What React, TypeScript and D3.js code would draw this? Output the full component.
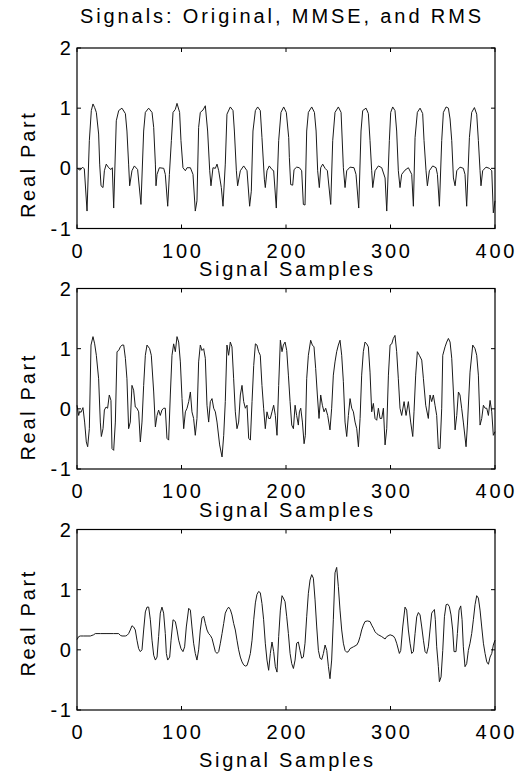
import React from 'react';
import * as d3 from 'd3';

// signal samples: [sample index, real part]
const original: [number, number][] = [
  [0, 0.0], [3, -0.03], [5.4, 0.02], [7, -0.01], [9.6, -0.71], [11.8, 0.46], [13.7, 0.96], [15.3, 1.07], [16.9, 1.01], [18.5, 0.93],
  [20.7, 0.57], [21.7, 0.07], [23, -0.29], [24.9, -0.32], [26.2, -0.04], [28, 0.07], [30.3, 0.01], [32.5, -0.02], [33.8, 0.01], [35.1, -0.66],
  [37.6, 0.79], [39.9, 0.96], [43, 1.0], [46.3, 0.91], [47.8, 0.62], [49.4, 0.07], [50.4, -0.29], [52.6, -0.04], [54.9, 0.04], [58, -0.02],
  [61.2, -0.6], [63.8, 0.62], [65.4, 0.93], [68.6, 1.0], [71.8, 0.93], [73.4, 0.68], [75, 0.07], [75.6, -0.29], [76.6, -0.1], [78.8, 0.01],
  [83, 0], [84.5, -0.1], [86.8, -0.63], [88.4, -0.1], [90.3, 0.46], [91.9, 0.93], [94.1, 0.98], [95.7, 1.08], [98.2, 0.93], [99.5, 0.46],
  [101.4, 0.01], [103.7, -0.04], [105.3, 0.01], [108.5, 0.01], [111, -0.1], [113.2, -0.71], [114.8, -0.54], [116.4, 0.68], [118, 0.93], [120.6, 0.97],
  [122.8, 1.04], [125, 0.62], [127, -0.04], [128.2, -0.29], [130.1, 0.01], [132.4, 0], [134, 0.07], [135.6, -0.04], [138.1, -0.32], [139.7, -0.63],
  [141.9, 0.07], [143.5, 0.9], [146.7, 1.02], [149.3, 0.96], [150.6, 0.62], [152.5, -0.04], [153.7, -0.29], [156.3, -0.04], [159.5, 0.04], [162.7, -0.04],
  [165.2, -0.63], [166.8, -0.38], [168.4, 0.62], [170.7, 0.96], [172.9, 1.02], [175.4, 0.96], [177, 0.51], [179.3, -0.18], [180.2, -0.32], [181.8, -0.04],
  [184, 0.04], [186.6, -0.02], [188.2, -0.04], [190.7, -0.66], [193, 0.46], [195.2, 0.93], [197.8, 1.02], [200.3, 0.93], [202.6, 0.51], [203.2, 0.18],
  [204.5, -0.27], [206.4, -0.28], [207.7, -0.02], [210.2, 0.02], [212.8, 0.01], [215, -0.04], [216.6, -0.6], [218.2, -0.61], [219.8, 0.62], [221.4, 0.93],
  [224.6, 1.02], [227.2, 0.93], [228.8, 0.62], [230.3, -0.04], [231.9, -0.32], [233.2, 0.01], [235.1, 0.07], [237.4, 0], [239.6, -0.04], [242.8, -0.6],
  [244.7, 0.46], [246.9, 0.93], [250.1, 1.02], [252.7, 0.93], [254.9, 0.01], [256.5, -0.32], [258.1, -0.04], [261.3, 0.02], [265.1, 0.01], [267, -0.1],
  [269.6, -0.66], [271.8, 0.62], [273.4, 0.96], [276.6, 1.0], [278.8, 0.91], [280.4, 0.46], [282, -0.04], [283, -0.32], [285.2, -0.04], [288.4, 0.04],
  [291.6, 0.01], [294.8, -0.16], [296.4, -0.71], [298.9, 0.46], [300.2, 0.93], [302.1, 1.02], [304.3, 0.96], [305.9, 0.62], [307.5, -0.04], [309.1, -0.32],
  [310.7, -0.1], [313.9, -0.03], [317.1, 0.01], [320.3, -0.1], [321.9, -0.63], [323.5, 0.51], [325.7, 0.93], [328.3, 1.0], [330.8, 0.91], [332.1, 0.46],
  [334, -0.04], [335.3, -0.29], [337.2, -0.04], [340.4, 0.04], [343.6, 0.01], [344.9, -0.1], [346.8, -0.63], [349, 0.46], [350.6, 0.93], [353.2, 1.02],
  [355.4, 1.0], [357, 0.82], [358.6, 0.46], [360.2, -0.16], [361.8, -0.29], [363.4, -0.04], [366.5, 0.02], [369.7, 0], [371.3, -0.1], [372.9, -0.63],
  [375.5, 0.51], [377.7, 0.93], [380.3, 1.01], [382.5, 0.9], [384.1, 0.46], [385.7, -0.04], [386.6, -0.29], [388.2, -0.04], [391.4, 0.02], [394.6, 0],
  [396.9, -0.04], [398.4, -0.74], [400, -0.54],
];

const mmse: [number, number][] = [
  [0, 0.06], [1.6, -0.11], [2.6, -0.04], [3.8, -0.06], [5.7, 0.02], [7.3, -0.22], [8.9, -0.55], [10.2, -0.63], [11.8, -0.33], [13.4, 1.06],
  [15.3, 1.2], [16.9, 1.08], [18.5, 0.89], [20.7, 0.5], [22.3, -0.22], [23.3, -0.46], [24.9, -0.33], [26.2, -0.02], [27.8, 0.03], [29.3, 0.01],
  [30.9, 0.23], [32.5, 0.14], [33.5, -0.66], [35.1, -0.69], [36.7, -0.22], [38.3, 0.95], [39.9, 0.97], [41.5, 1.03], [43.1, 1.06], [44.7, 1.06],
  [46.3, 0.84], [47.8, 0.5], [49.4, -0.33], [51, -0.22], [52.6, 0.39], [54.2, 0.31], [55.8, 0.03], [57.4, 0.01], [59, -0.05], [60.6, -0.55],
  [62.2, -0.22], [63.8, 0.39], [65.4, 0.89], [67, 1.06], [69.5, 1.0], [71.1, 0.89], [73.4, 0.28], [75, -0.3], [76.6, -0.11], [78.1, -0.02],
  [79.7, -0.11], [81.3, -0.02], [82.9, 0.01], [84.5, 0.01], [86.1, -0.49], [87.7, -0.52], [89.3, 0.23], [90.9, 0.89], [92.5, 1.08], [94.1, 0.95],
  [95.7, 1.2], [97.3, 1.11], [98.9, 0.78], [100.5, 0.17], [102.1, -0.33], [103.7, -0.05], [105.3, 0.01], [106.9, 0.12], [108.5, 0.28], [110, -0.05],
  [111.6, -0.16], [113.2, -0.44], [114.8, -0.16], [116.4, 0.78], [118, 1.06], [119.6, 0.97], [121.2, 1.0], [122.8, 0.84], [124.4, 0.06], [126, -0.22],
  [127.6, 0.12], [129.2, 0.17], [130.8, 0.01], [132.4, -0.05], [134, -0.22], [136.5, -0.6], [138.8, -0.8], [140.4, -0.44], [141.9, 0.12], [143.5, 1.06],
  [145.1, 0.89], [146.7, 1.11], [148.3, 1.03], [149.9, 0.5], [151.5, -0.05], [153.1, -0.33], [154.7, -0.22], [156.3, 0.23], [157.9, 0.39], [159.5, 0.12],
  [161.1, 0.01], [162.7, 0.06], [164.3, -0.49], [165.9, -0.52], [167.5, 0.12], [169.1, 0.72], [170.7, 1.08], [172.2, 1.06], [173.8, 0.95], [175.4, 0.89],
  [177, 0.39], [178.6, 0.01], [180.2, -0.33], [181.8, -0.05], [183.4, -0.16], [185, -0.16], [186.6, -0.05], [188.2, 0.06], [189.8, -0.11], [191.4, -0.44],
  [193, 0.39], [194.6, 1.14], [196.2, 0.95], [197.5, 1.06], [199.1, 1.11], [200.7, 0.97], [202.3, 0.56], [203.9, 0.12], [205.5, -0.27], [207.1, -0.33],
  [208.7, 0.06], [210.2, -0.11], [211.8, -0.27], [212.8, -0.05], [214.1, 0.01], [215.7, -0.22], [217.3, -0.58], [218.5, -0.44], [219.8, 0.5], [221.4, 0.89],
  [223.6, 1.14], [225.2, 1.06], [226.8, 1.03], [228.4, 0.67], [230, 0.23], [231.6, -0.16], [233.2, 0.23], [234.8, 0.06], [236.4, -0.05], [238, 0.01],
  [239.9, -0.11], [242.1, -0.35], [243.7, 0.01], [245.3, 0.56], [246.9, 0.78], [248.5, 0.95], [250.1, 1.06], [251.7, 1.14], [253.3, 0.89], [254.9, 0.45],
  [256.5, -0.22], [258.1, -0.46], [259.7, -0.11], [261.3, 0.17], [262.9, 0.01], [264.5, -0.05], [266.1, -0.22], [267.7, -0.33], [269.3, -0.63], [270.9, -0.16],
  [272.4, 0.56], [274, 0.95], [275.6, 1.11], [277.2, 1.08], [278.8, 1.03], [280.4, 0.61], [282, -0.05], [283.6, 0.09], [285.2, -0.16], [286.8, -0.19],
  [288.4, 0.01], [290, -0.16], [291.6, -0.16], [293.2, 0.01], [294.8, -0.6], [296.4, -0.33], [298, 0.56], [299.6, 1.06], [301.2, 1.08], [302.7, 1.17],
  [304.3, 1.22], [305.9, 0.95], [307.5, 0.5], [309.1, 0.01], [310.7, -0.11], [313, 0.12], [314.9, -0.11], [317.1, 0.12], [319.3, -0.22], [321.3, -0.46],
  [322.5, -0.05], [324.1, 0.56], [325.7, 0.95], [327.6, 0.89], [329.9, 0.81], [331.5, 0.5], [333.7, 0.06], [336.2, -0.16], [337.8, 0.23], [339.4, 0.12],
  [341, 0.23], [342.6, 0.06], [344.2, -0.11], [345.8, -0.66], [347.4, -0.66], [349, 0.01], [350, 0.89], [352.2, 1.03], [353.8, 1.11], [355.4, 1.17],
  [357, 1.11], [358.6, 0.84], [360.2, 0.28], [361.8, -0.35], [363.4, -0.11], [365, 0.28], [366.5, 0.23], [368.1, 0.01], [369.7, -0.22], [372.3, -0.63],
  [373.6, -0.27], [376.1, 0.61], [378.7, 1.06], [380.9, 1.0], [382.5, 0.89], [384.1, 0.56], [385.7, -0.27], [387.3, -0.16], [388.9, 0.06], [390.5, 0.01],
  [392.1, 0.01], [393.7, -0.11], [395.3, 0.14], [396.9, -0.05], [398.4, -0.44], [400, -0.38],
];

const rms: [number, number][] = [
  [0, 0.17], [1.6, 0.22], [3.2, 0.23], [6.4, 0.23], [9.6, 0.23], [12.8, 0.23], [15.9, 0.25], [17.5, 0.27], [22.3, 0.27], [28.7, 0.27],
  [35.1, 0.27], [39.9, 0.27], [41.5, 0.24], [43.1, 0.23], [46.3, 0.23], [47.8, 0.24], [49.4, 0.27], [51, 0.33], [52.6, 0.4], [54.2, 0.38],
  [55.8, 0.33], [57.4, 0.16], [59, 0.02], [60.6, -0.03], [62.2, 0], [63.8, 0.33], [65.4, 0.63], [67, 0.71], [68.6, 0.71], [70.2, 0.5],
  [71.8, 0.16], [73.4, -0.09], [75, -0.17], [76.6, -0.12], [78.1, 0.22], [79.7, 0.61], [81.3, 0.71], [82.9, 0.61], [84.5, 0.27], [85.5, -0.06],
  [86.8, -0.17], [88.7, -0.12], [90, 0.16], [91.9, 0.5], [94.1, 0.47], [95.7, 0.33], [97.3, 0.16], [99.5, 0.02], [101.4, -0.03], [103, 0.05],
  [104.6, 0.38], [106.9, 0.69], [108.5, 0.66], [110, 0.38], [111.6, 0.11], [113.2, -0.06], [114.8, -0.17], [116.4, 0], [118, 0.33], [119.6, 0.53],
  [121.2, 0.56], [122.8, 0.44], [124.4, 0.33], [126, 0.27], [127.6, 0.24], [129.2, 0.19], [130.8, 0.08], [132.4, -0.03], [134, -0.06], [135.6, -0.03],
  [137.2, 0.11], [138.8, 0.27], [140.4, 0.44], [141.9, 0.61], [143.5, 0.67], [145.1, 0.71], [146.7, 0.67], [148.3, 0.58], [149.9, 0.44], [151.5, 0.33],
  [153.1, 0.16], [154.7, 0], [156.3, -0.12], [157.9, -0.2], [159.5, -0.25], [161.1, -0.27], [162.7, -0.26], [164.3, -0.17], [165.9, -0.06], [167.5, 0.16],
  [169.1, 0.5], [170.7, 0.78], [172.2, 0.92], [173.8, 0.97], [175.4, 0.95], [177, 0.77], [178.6, 0.5], [180.2, 0.11], [181.8, -0.17], [183.4, -0.34],
  [185, -0.06], [186.6, 0.13], [188.2, -0.03], [189.8, -0.28], [191.4, -0.37], [193, 0.22], [194.6, 0.66], [196.2, 0.9], [197.5, 0.86], [199.1, 0.8],
  [200.7, 0.55], [202.3, 0.27], [203.9, -0.06], [205.5, -0.23], [207.1, -0.31], [208.7, -0.17], [210.2, 0.11], [211.8, 0.13], [213.4, -0.01], [215, -0.14],
  [216.6, -0.12], [218.2, 0.11], [219.8, 0.55], [221.4, 0.94], [223, 1.16], [224.6, 1.25], [226.2, 1.19], [227.8, 0.83], [229.4, 0.38], [231, -0.01],
  [232.6, -0.14], [234.2, -0.16], [235.8, -0.06], [237.4, 0.08], [239, -0.01], [240.6, -0.28], [242.1, -0.48], [243.7, -0.17], [245.3, 0.5], [246.9, 1.28],
  [248.5, 1.37], [250.1, 1.05], [251.7, 0.66], [253.3, 0.33], [254.9, 0.11], [256.5, -0.01], [258.1, -0.04], [259.7, -0.03], [261.3, 0.02], [264.5, 0.05],
  [267.7, 0.08], [269.3, 0.13], [270.9, 0.22], [272.4, 0.33], [274, 0.41], [275.6, 0.47], [277.9, 0.48], [280.4, 0.47], [282, 0.41], [283.6, 0.36],
  [285.2, 0.3], [286.8, 0.27], [288.4, 0.25], [291.6, 0.22], [294.8, 0.18], [296.4, 0.22], [299.6, 0.25], [302.7, 0.23], [304.3, 0.19], [305.9, 0.11],
  [308.5, -0.06], [309.8, -0.01], [311.7, 0.38], [313.9, 0.71], [315.5, 0.66], [317.1, 0.33], [318.7, 0.11], [320.3, -0.06], [321.9, -0.03], [323.5, 0.27],
  [325.1, 0.55], [326.7, 0.62], [328.3, 0.58], [329.9, 0.38], [331.5, 0.16], [333.1, -0.03], [334.6, -0.06], [336.2, 0.05], [337.8, 0.33], [339.4, 0.61],
  [341, 0.65], [342, 0.67], [342.9, 0.5], [344.2, 0.05], [345.8, -0.28], [346.8, -0.53], [348.4, -0.45], [350, -0.01], [351.6, 0.55], [353.2, 0.75],
  [354.7, 0.76], [356.3, 0.72], [357.9, 0.58], [359.5, 0.33], [360.8, -0.03], [362.7, -0.03], [364, 0.27], [365.6, 0.66], [367.2, 0.73], [368.5, 0.5],
  [369.7, 0.05], [371.3, -0.28], [372.9, -0.23], [374.5, -0.01], [376.1, 0.11], [377.7, 0.27], [379.3, 0.5], [380.9, 0.75], [382.5, 0.9], [384.1, 0.86],
  [385.7, 0.66], [387.3, 0.38], [388.9, 0.11], [390.5, -0.06], [392.1, -0.2], [393.7, -0.24], [395.3, -0.12], [396.9, -0.06], [398.4, 0.08], [400, 0.16],
];

const xTicks = [0, 100, 200, 300, 400];
const yTicks = [-1, 0, 1, 2];
const title = 'Signals: Original, MMSE, and RMS';
const xLabel = 'Signal Samples';
const yLabel = 'Real Part';

const W = 517;
const H = 772;
const font = '"Liberation Sans", Arial, Helvetica, sans-serif';
const fs = 20;
const ls = 2.7;
const left = 77;
const right = 495;
const plotH = 180.5;
const tickLen = 4;

// the first two panels have their labels squeezed (xlabel up, ylabel down)
const panels = [
  { data: original, top: 48, xlabDy: 47.5, ylabDy: 26 },
  { data: mmse, top: 288.5, xlabDy: 47.5, ylabDy: 28 },
  { data: rms, top: 529.5, xlabDy: 57, ylabDy: 3 },
];

type PanelProps = { data: [number, number][]; top: number; xlabDy: number; ylabDy: number };

const Panel = ({ data, top, xlabDy, ylabDy }: PanelProps) => {
  const x = d3.scaleLinear().domain([0, 400]).range([left, right]);
  const y = d3.scaleLinear().domain([-1, 2]).range([top + plotH, top]);
  const line = d3.line<[number, number]>().x(d => x(d[0])).y(d => y(d[1]));
  const bottom = top + plotH;
  const mid = (top + bottom) / 2;

  return (
    <g>
      <path d={line(data) ?? ''} fill="none" stroke="#1a1a1a" strokeWidth={1} />
      <rect x={left} y={top} width={right - left} height={plotH} fill="none" stroke="#000" strokeWidth={1.2} />
      {xTicks.map(t => (
        <g key={'x' + t}>
          <line x1={x(t)} x2={x(t)} y1={bottom} y2={bottom - tickLen} stroke="#000" />
          <line x1={x(t)} x2={x(t)} y1={top} y2={top + tickLen} stroke="#000" />
          <text x={x(t) + ls / 2} y={bottom + 29} textAnchor="middle" fontSize={fs} letterSpacing={ls} fontFamily={font}>{t}</text>
        </g>
      ))}
      {yTicks.map(t => (
        <g key={'y' + t}>
          <line x1={left} x2={left + tickLen} y1={y(t)} y2={y(t)} stroke="#000" />
          <line x1={right} x2={right - tickLen} y1={y(t)} y2={y(t)} stroke="#000" />
          <text x={71 + ls} y={y(t)} dy="0.35em" textAnchor="end" fontSize={fs} letterSpacing={ls} fontFamily={font}>{t}</text>
        </g>
      ))}
      <text x={(left + right) / 2 + ls / 2} y={bottom + xlabDy} textAnchor="middle" fontSize={fs} letterSpacing={ls} fontFamily={font}>{xLabel}</text>
      <text transform={`translate(35,${mid + ylabDy}) rotate(-90)`} textAnchor="middle" fontSize={fs} letterSpacing={ls} fontFamily={font}>{yLabel}</text>
    </g>
  );
};

const App = () => (
  <svg width={W} height={H} style={{ position: 'absolute', left: 0, top: 0, background: '#fff' }}>
    <text x={282} y={23} textAnchor="middle" fontSize={fs} letterSpacing={2.9} fontFamily={font}>{title}</text>
    {panels.map((p, i) => (
      <Panel key={i} data={p.data} top={p.top} xlabDy={p.xlabDy} ylabDy={p.ylabDy} />
    ))}
  </svg>
);

export default App;
